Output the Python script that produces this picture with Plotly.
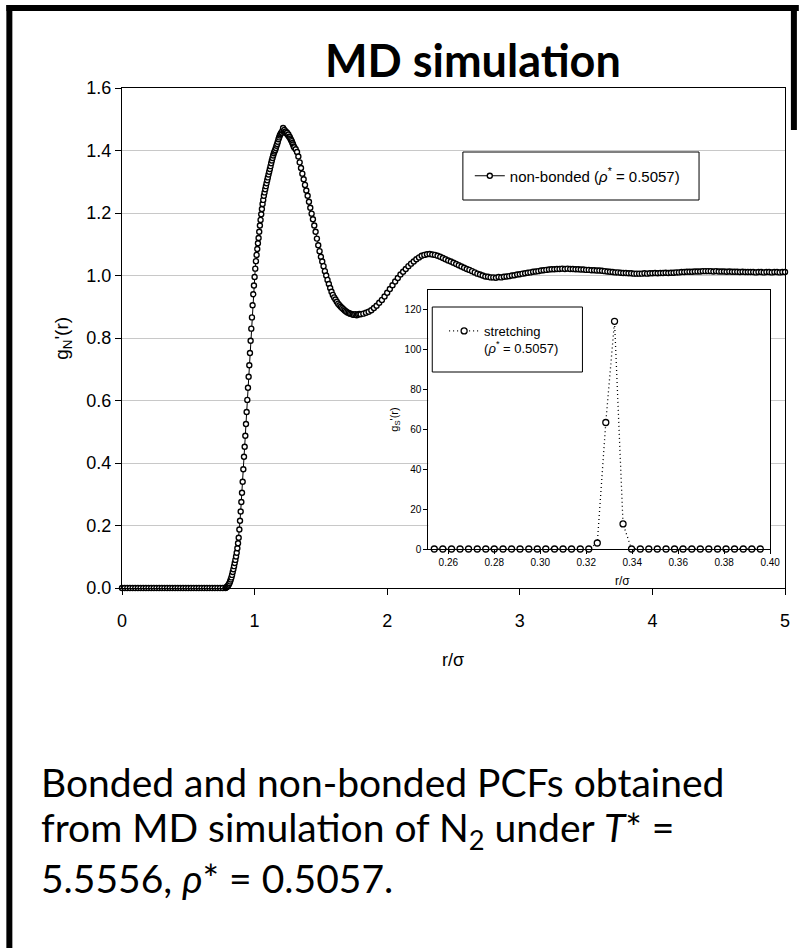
import plotly.graph_objects as go

# ---------------- data: non-bonded PCF g_N'(r) ----------------
r_flat = [0.00, 0.02, 0.04, 0.06, 0.08, 0.10, 0.12, 0.14, 0.16, 0.18,
          0.20, 0.22, 0.24, 0.26, 0.28, 0.30, 0.32, 0.34, 0.36, 0.38,
          0.40, 0.42, 0.44, 0.46, 0.48, 0.50, 0.52, 0.54, 0.56, 0.58,
          0.60, 0.62, 0.64, 0.66, 0.68, 0.70, 0.72, 0.74, 0.76, 0.78]
g_flat = [0.0, 0.0, 0.0, 0.0, 0.0, 0.0, 0.0, 0.0, 0.0, 0.0,
          0.0, 0.0, 0.0, 0.0, 0.0, 0.0, 0.0, 0.0, 0.0, 0.0,
          0.0, 0.0, 0.0, 0.0, 0.0, 0.0, 0.0, 0.0, 0.0, 0.0,
          0.0, 0.0, 0.0, 0.0, 0.0, 0.0, 0.0, 0.0, 0.0, 0.0]

r_rise = [0.785, 0.790, 0.795, 0.800, 0.805, 0.810, 0.815, 0.820, 0.825, 0.830,
          0.835, 0.840, 0.845, 0.850, 0.855, 0.860, 0.865, 0.870, 0.875, 0.880,
          0.885, 0.890, 0.895, 0.900, 0.905, 0.910, 0.915, 0.920, 0.925, 0.930,
          0.935, 0.940, 0.945, 0.950, 0.955, 0.960, 0.965, 0.970, 0.975, 0.980,
          0.985, 0.990, 0.995, 1.000, 1.005, 1.010, 1.015, 1.020, 1.025, 1.030,
          1.035, 1.040, 1.045, 1.050, 1.055, 1.060, 1.065, 1.070, 1.075, 1.080,
          1.085, 1.090, 1.095, 1.100, 1.105, 1.110, 1.115, 1.120, 1.125, 1.130,
          1.135, 1.140, 1.145, 1.150, 1.155, 1.160, 1.165, 1.170, 1.175, 1.180,
          1.185, 1.190, 1.195, 1.200, 1.205, 1.210, 1.215, 1.220, 1.225, 1.230,
          1.235, 1.240, 1.245, 1.250, 1.255, 1.260, 1.265, 1.270, 1.275, 1.280,
          1.285, 1.290, 1.295, 1.300]
g_rise = [0.002, 0.003, 0.005, 0.008, 0.011, 0.015, 0.021, 0.027, 0.034, 0.042,
          0.051, 0.060, 0.070, 0.080, 0.090, 0.101, 0.113, 0.127, 0.143, 0.161,
          0.187, 0.215, 0.245, 0.275, 0.305, 0.340, 0.380, 0.420, 0.452, 0.487,
          0.525, 0.563, 0.602, 0.641, 0.676, 0.713, 0.752, 0.791, 0.830, 0.866,
          0.905, 0.940, 0.968, 0.995, 1.022, 1.046, 1.066, 1.085, 1.103, 1.120,
          1.140, 1.160, 1.178, 1.196, 1.213, 1.229, 1.242, 1.255, 1.266, 1.276,
          1.286, 1.295, 1.305, 1.314, 1.323, 1.332, 1.341, 1.350, 1.359, 1.368,
          1.376, 1.384, 1.391, 1.397, 1.402, 1.408, 1.415, 1.421, 1.428, 1.436,
          1.442, 1.448, 1.452, 1.456, 1.458, 1.463, 1.472, 1.462, 1.466, 1.459,
          1.461, 1.455, 1.457, 1.450, 1.451, 1.444, 1.443, 1.438, 1.434, 1.430,
          1.424, 1.419, 1.413, 1.410]

r_fall = [1.31, 1.32, 1.33, 1.34, 1.35, 1.36, 1.37, 1.38, 1.39, 1.40,
          1.41, 1.42, 1.43, 1.44, 1.45, 1.46, 1.47, 1.48, 1.49, 1.50,
          1.51, 1.52, 1.53, 1.54, 1.55, 1.56, 1.57, 1.58, 1.59, 1.60,
          1.61, 1.62, 1.63, 1.64, 1.65, 1.66, 1.67, 1.68, 1.69, 1.70,
          1.71, 1.72, 1.73, 1.74, 1.75, 1.76, 1.77, 1.78, 1.79, 1.80]
g_fall = [1.404, 1.395, 1.381, 1.362, 1.344, 1.326, 1.308, 1.290, 1.272, 1.255,
          1.236, 1.217, 1.198, 1.180, 1.160, 1.140, 1.118, 1.097, 1.078, 1.060,
          1.045, 1.030, 1.014, 1.000, 0.986, 0.973, 0.960, 0.948, 0.938, 0.930,
          0.923, 0.916, 0.910, 0.905, 0.900, 0.896, 0.892, 0.888, 0.885, 0.882,
          0.880, 0.878, 0.877, 0.875, 0.874, 0.876, 0.873, 0.875, 0.877, 0.876]

r_tail = [1.82, 1.84, 1.86, 1.88, 1.90, 1.92, 1.94, 1.96, 1.98, 2.00,
          2.02, 2.04, 2.06, 2.08, 2.10, 2.12, 2.14, 2.16, 2.18, 2.20,
          2.22, 2.24, 2.26, 2.28, 2.30, 2.32, 2.34, 2.36, 2.38, 2.40,
          2.42, 2.44, 2.46, 2.48, 2.50, 2.52, 2.54, 2.56, 2.58, 2.60,
          2.62, 2.64, 2.66, 2.68, 2.70, 2.72, 2.74, 2.76, 2.78, 2.80,
          2.82, 2.84, 2.86, 2.88, 2.90, 2.92, 2.94, 2.96, 2.98, 3.00,
          3.02, 3.04, 3.06, 3.08, 3.10, 3.12, 3.14, 3.16, 3.18, 3.20,
          3.22, 3.24, 3.26, 3.28, 3.30, 3.32, 3.34, 3.36, 3.38, 3.40,
          3.42, 3.44, 3.46, 3.48, 3.50, 3.52, 3.54, 3.56, 3.58, 3.60,
          3.62, 3.64, 3.66, 3.68, 3.70, 3.72, 3.74, 3.76, 3.78, 3.80,
          3.82, 3.84, 3.86, 3.88, 3.90, 3.92, 3.94, 3.96, 3.98, 4.00,
          4.02, 4.04, 4.06, 4.08, 4.10, 4.12, 4.14, 4.16, 4.18, 4.20,
          4.22, 4.24, 4.26, 4.28, 4.30, 4.32, 4.34, 4.36, 4.38, 4.40,
          4.42, 4.44, 4.46, 4.48, 4.50, 4.52, 4.54, 4.56, 4.58, 4.60,
          4.62, 4.64, 4.66, 4.68, 4.70, 4.72, 4.74, 4.76, 4.78, 4.80,
          4.82, 4.84, 4.86, 4.88, 4.90, 4.92, 4.94, 4.96, 4.98, 5.00]
g_tail = [0.878, 0.881, 0.884, 0.889, 0.896, 0.903, 0.913, 0.922, 0.933, 0.945,
          0.957, 0.969, 0.981, 0.992, 1.003, 1.012, 1.021, 1.030, 1.038, 1.045,
          1.052, 1.058, 1.063, 1.066, 1.068, 1.069, 1.067, 1.066, 1.063, 1.060,
          1.056, 1.052, 1.048, 1.045, 1.041, 1.037, 1.033, 1.029, 1.025, 1.021,
          1.018, 1.014, 1.010, 1.006, 1.003, 1.000, 0.997, 0.996, 0.994, 0.994,
          0.993, 0.995, 0.994, 0.996, 0.997, 0.998, 1.000, 1.001, 1.003, 1.004,
          1.006, 1.007, 1.009, 1.010, 1.012, 1.013, 1.014, 1.016, 1.017, 1.018,
          1.019, 1.020, 1.020, 1.021, 1.021, 1.022, 1.021, 1.022, 1.021, 1.021,
          1.020, 1.020, 1.019, 1.019, 1.018, 1.018, 1.017, 1.017, 1.016, 1.016,
          1.015, 1.014, 1.013, 1.012, 1.011, 1.010, 1.010, 1.009, 1.008, 1.008,
          1.007, 1.007, 1.006, 1.006, 1.006, 1.006, 1.007, 1.006, 1.007, 1.007,
          1.008, 1.007, 1.008, 1.008, 1.009, 1.008, 1.009, 1.009, 1.010, 1.010,
          1.011, 1.011, 1.012, 1.012, 1.012, 1.013, 1.013, 1.013, 1.014, 1.014,
          1.014, 1.014, 1.013, 1.014, 1.013, 1.013, 1.013, 1.012, 1.013, 1.012,
          1.012, 1.012, 1.011, 1.012, 1.011, 1.011, 1.011, 1.011, 1.010, 1.011,
          1.011, 1.010, 1.011, 1.011, 1.010, 1.011, 1.011, 1.010, 1.011, 1.011]

# ---------------- data: stretching (bonded) PCF g_S'(r) ----------------
r_stretch = [0.2539, 0.2576, 0.2614, 0.2651, 0.2688, 0.2726, 0.2763, 0.2800,
             0.2838, 0.2875, 0.2912, 0.2950, 0.2987, 0.3024, 0.3062, 0.3099,
             0.3136, 0.3174, 0.3211, 0.3248, 0.3285, 0.3323, 0.3360, 0.3397,
             0.3435, 0.3472, 0.3509, 0.3547, 0.3584, 0.3621, 0.3659, 0.3696,
             0.3733, 0.3771, 0.3808, 0.3845, 0.3883, 0.3920, 0.3957]
g_stretch = [0.0, 0.0, 0.0, 0.0, 0.0, 0.0, 0.0, 0.0,
             0.0, 0.0, 0.0, 0.0, 0.0, 0.0, 0.0, 0.0,
             0.0, 0.0, 0.0, 3.0, 63.5, 114.3, 12.6, 0.0,
             0.0, 0.0, 0.0, 0.0, 0.0, 0.0, 0.0, 0.0,
             0.0, 0.0, 0.0, 0.0, 0.0, 0.0, 0.0]

main_yticks = [0.0, 0.2, 0.4, 0.6, 0.8, 1.0, 1.2, 1.4, 1.6]
main_xticks = [0, 1, 2, 3, 4, 5]
inset_xticks = [0.26, 0.28, 0.30, 0.32, 0.34, 0.36, 0.38, 0.40]
inset_yticks = [0, 20, 40, 60, 80, 100, 120]

r_nb = r_flat + r_rise + r_fall + r_tail
g_nb = g_flat + g_rise + g_fall + g_tail
assert len(r_nb) == len(g_nb)
assert len(r_stretch) == len(g_stretch)

# ---------------- geometry (pixels) ----------------
W, H = 807, 948
L, R, T, B = 122, 793, 88, 588
PW, PH = R - L, B - T


def px(x):
    return (x - L) / PW


def py(y):
    return (B - y) / PH


AX = "Liberation Sans, Arial, sans-serif"
CAL = "Lato, Open Sans, sans-serif"

fig = go.Figure()
fig.add_trace(go.Scatter(
    x=r_nb, y=g_nb, mode="lines+markers",
    name="non-bonded (<i>ρ</i><sup>*</sup> = 0.5057)",
    line=dict(color="black", width=1),
    marker=dict(symbol="circle", size=5, color="white",
                line=dict(color="black", width=1.4)),
    cliponaxis=False, legend="legend", xaxis="x", yaxis="y",
))
fig.add_trace(go.Scatter(
    x=r_stretch, y=g_stretch, mode="lines+markers",
    name="stretching<br>(<i>ρ</i><sup>*</sup> = 0.5057)",
    line=dict(color="black", width=1.3, dash="1px,3px"),
    marker=dict(symbol="circle", size=6, color="white",
                line=dict(color="black", width=1.3)),
    cliponaxis=False, legend="legend2", xaxis="x2", yaxis="y2",
))

fig.update_layout(
    width=W, height=H,
    margin=dict(l=L, r=W - R, t=T, b=H - B),
    paper_bgcolor="white", plot_bgcolor="white",
    font=dict(family=AX, color="black", size=12),
    xaxis=dict(domain=[0, 1], range=[0, 5], tickvals=main_xticks,
               showgrid=False, zeroline=False, showline=True, mirror=True,
               linecolor="black", linewidth=1, ticks="outside", ticklen=6,
               tickcolor="black", ticklabelstandoff=10,
               tickfont=dict(size=18, family=AX, color="black")),
    yaxis=dict(domain=[0, 1], range=[0, 1.6], tickvals=main_yticks,
               tickformat=".1f", showgrid=True, gridcolor="#c8c8c8",
               gridwidth=1, zeroline=False, showline=True, mirror=True,
               linecolor="black", linewidth=1, ticks="outside", ticklen=6,
               tickcolor="black",
               tickfont=dict(size=18, family=AX, color="black")),
    xaxis2=dict(domain=[px(432), px(778)], anchor="y2",
                range=[0.2513, 0.4], tickvals=inset_xticks,
                tickformat=".2f", showgrid=False, zeroline=False,
                showline=True, mirror=True, linecolor="black", linewidth=1,
                ticks="outside", ticklen=4, tickcolor="black",
                tickfont=dict(size=10, family=AX, color="black")),
    yaxis2=dict(domain=[py(549), py(290)], anchor="x2",
                range=[0, 130], tickvals=inset_yticks, showgrid=False,
                zeroline=False, showline=True, mirror=True,
                linecolor="black", linewidth=1, ticks="outside", ticklen=4,
                tickcolor="black",
                tickfont=dict(size=10, family=AX, color="black")),
    legend=dict(x=px(474), y=py(176), xanchor="left", yanchor="middle",
                bgcolor="rgba(0,0,0,0)", borderwidth=0, itemwidth=30,
                font=dict(size=15, family=AX, color="black")),
    legend2=dict(x=px(448), y=py(316), xanchor="left", yanchor="top",
                 bgcolor="rgba(0,0,0,0)", borderwidth=0, itemwidth=30,
                 valign="top", font=dict(size=13, family=AX, color="black")),
    showlegend=True,
)

shapes = [
    # legend frames
    dict(type="rect", xref="paper", yref="paper", x0=px(467), x1=px(706),
         y0=py(200), y1=py(152), line=dict(color="black", width=1),
         fillcolor="rgba(0,0,0,0)", layer="above"),
    dict(type="rect", xref="paper", yref="paper", x0=px(436), x1=px(588),
         y0=py(372), y1=py(307), line=dict(color="black", width=1),
         fillcolor="rgba(0,0,0,0)", layer="above"),
    # slide frame (the right edge is hidden below the top area)
    dict(type="line", xref="paper", yref="paper", x0=px(8), x1=px(8),
         y0=py(5), y1=py(948), line=dict(color="black", width=6), layer="above"),
    dict(type="line", xref="paper", yref="paper", x0=px(5), x1=px(807),
         y0=py(8), y1=py(8), line=dict(color="black", width=6), layer="above"),
    dict(type="line", xref="paper", yref="paper", x0=px(802), x1=px(802),
         y0=py(5), y1=py(130), line=dict(color="black", width=6), layer="above"),
]
fig.update_layout(shapes=shapes)

annotations = [
    dict(text="<b>MD simulation</b>", x=px(477), y=py(60), xref="paper",
         yref="paper", xanchor="center", yanchor="middle", showarrow=False,
         font=dict(size=45, family=CAL, color="black")),
    dict(text="r/σ", x=px(457), y=py(660), xref="paper", yref="paper",
         xanchor="center", yanchor="middle", showarrow=False,
         font=dict(size=18, family=AX, color="black")),
    dict(text="g<sub>N</sub>'(r)", x=px(62), y=py(338), xref="paper",
         yref="paper", xanchor="center", yanchor="middle", showarrow=False,
         textangle=-90, font=dict(size=19, family=AX, color="black")),
    dict(text="r/σ", x=px(629), y=py(581), xref="paper", yref="paper",
         xanchor="center", yanchor="middle", showarrow=False,
         font=dict(size=12, family=AX, color="black")),
    dict(text="g<sub>S</sub>'(r)", x=px(398), y=py(420), xref="paper",
         yref="paper", xanchor="center", yanchor="middle", showarrow=False,
         textangle=-90, font=dict(size=11, family=AX, color="black")),
]
caption_lines = ["Bonded and non-bonded PCFs obtained",
                 "from MD simulation of N<sub>2</sub> under <i>T</i>* =",
                 "5.5556, <i>ρ</i>* = 0.5057."]
caption_y = [782, 830, 878]
for txt, yy in zip(caption_lines, caption_y):
    annotations.append(dict(
        text=txt, x=px(38), y=py(yy), xref="paper", yref="paper",
        xanchor="left", yanchor="middle", align="left", showarrow=False,
        font=dict(size=39, family=CAL, color="black")))
fig.update_layout(annotations=annotations)

fig.write_html("out.html", config={"displayModeBar": False},
               post_script="document.body.style.margin='0';document.body.style.overflow='hidden';")
